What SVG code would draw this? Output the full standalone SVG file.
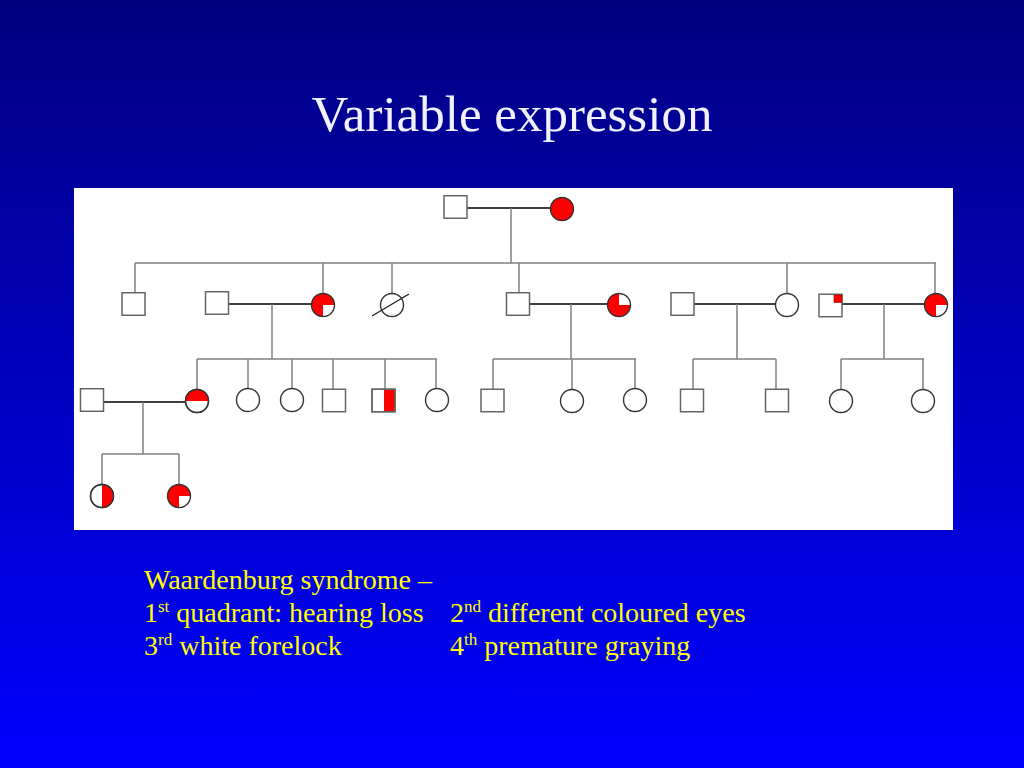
<svg xmlns="http://www.w3.org/2000/svg" width="1024" height="768" viewBox="0 0 1024 768">
<defs>
<linearGradient id="bg" x1="0" y1="0" x2="0" y2="1">
<stop offset="0" stop-color="#000080"/>
<stop offset="1" stop-color="#0000FF"/>
</linearGradient>
<rect id="sq" x="-11.5" y="-11.25" width="23" height="22.5"/>
<circle id="ci" cx="0" cy="0" r="11.5"/>
</defs>
<style>
.sq{fill:#fff;stroke:#666;stroke-width:1.5}
.ci{fill:#fff;stroke:#333;stroke-width:1.4}
.red{fill:#ff0000;stroke:none}
.wh{fill:#fff;stroke:none}
.out{fill:none;stroke:#333;stroke-width:1.4}
.outsq{fill:none;stroke:#666;stroke-width:1.5}
.rel{stroke:#7f7f7f;stroke-width:1.5;fill:none}
.mar{stroke:#000;stroke-width:1.4;fill:none}
.title{font-family:"Liberation Serif","Times New Roman",serif;font-size:51px;fill:#F2F2FF}
.note{font-family:"Liberation Serif","Times New Roman",serif;font-size:28px;fill:#FFFF00}
.sup{font-size:17px}
</style>
<rect x="0" y="0" width="1024" height="768" fill="url(#bg)"/>
<text class="title" x="512" y="131" text-anchor="middle">Variable expression</text>
<rect x="74" y="188" width="879" height="342" fill="#fff"/>

<g id="connectors">
<!-- generation I -->
<line class="mar" x1="467" y1="208" x2="551" y2="208"/>
<line class="rel" x1="511" y1="208" x2="511" y2="263"/>
<line class="rel" x1="135" y1="263" x2="936" y2="263"/>
<line class="rel" x1="135" y1="263" x2="135" y2="293"/>
<line class="rel" x1="323" y1="263" x2="323" y2="293.5"/>
<line class="rel" x1="392" y1="263" x2="392" y2="293.5"/>
<line class="rel" x1="519" y1="263" x2="519" y2="293"/>
<line class="rel" x1="787" y1="263" x2="787" y2="293.5"/>
<line class="rel" x1="935" y1="263" x2="935" y2="293.5"/>
<!-- generation II marriages -->
<line class="mar" x1="228" y1="304" x2="311.5" y2="304"/>
<line class="rel" x1="272" y1="304" x2="272" y2="359"/>
<line class="mar" x1="529" y1="304" x2="607.5" y2="304"/>
<line class="rel" x1="571" y1="304" x2="571" y2="359"/>
<line class="mar" x1="694" y1="304" x2="775.5" y2="304"/>
<line class="rel" x1="737" y1="304" x2="737" y2="359"/>
<line class="mar" x1="842" y1="304" x2="924.5" y2="304"/>
<line class="rel" x1="884" y1="304" x2="884" y2="359"/>
<!-- generation III sibships -->
<line class="rel" x1="197" y1="359" x2="437" y2="359"/>
<line class="rel" x1="197" y1="359" x2="197" y2="389.5"/>
<line class="rel" x1="248" y1="359" x2="248" y2="388.5"/>
<line class="rel" x1="292" y1="359" x2="292" y2="388.5"/>
<line class="rel" x1="333" y1="359" x2="333" y2="389"/>
<line class="rel" x1="385" y1="359" x2="385" y2="389"/>
<line class="rel" x1="436" y1="359" x2="436" y2="388.5"/>
<line class="rel" x1="493" y1="359" x2="636" y2="359"/>
<line class="rel" x1="493" y1="359" x2="493" y2="389"/>
<line class="rel" x1="572" y1="359" x2="572" y2="389.5"/>
<line class="rel" x1="635" y1="359" x2="635" y2="388.5"/>
<line class="rel" x1="693" y1="359" x2="776" y2="359"/>
<line class="rel" x1="693" y1="359" x2="693" y2="389"/>
<line class="rel" x1="776" y1="359" x2="776" y2="389"/>
<line class="rel" x1="841" y1="359" x2="924" y2="359"/>
<line class="rel" x1="841" y1="359" x2="841" y2="389.5"/>
<line class="rel" x1="923" y1="359" x2="923" y2="389.5"/>
<!-- generation III marriage -->
<line class="mar" x1="103" y1="402" x2="185.5" y2="402"/>
<line class="rel" x1="143" y1="402" x2="143" y2="454"/>
<line class="rel" x1="102" y1="454" x2="179" y2="454"/>
<line class="rel" x1="102" y1="454" x2="102" y2="484.5"/>
<line class="rel" x1="179" y1="454" x2="179" y2="484.5"/>
</g>

<!-- Generation I -->
<g id="I1" transform="translate(455.5,207)"><use href="#sq" class="sq"/></g>
<g id="I2" transform="translate(562,209)"><circle r="11.5" class="red"/><circle r="11.5" class="out"/></g>

<!-- Generation II -->
<g id="II1" transform="translate(133.5,304)"><use href="#sq" class="sq"/></g>
<g id="II2" transform="translate(217,303)"><use href="#sq" class="sq"/></g>
<g id="II3" transform="translate(323,305)"><circle r="11.5" class="red"/><path class="wh" d="M0 0 H11.5 A11.5 11.5 0 0 1 0 11.5 Z"/><circle r="11.5" class="out"/></g>
<g id="II4" transform="translate(392,305)"><use href="#ci" class="ci"/><line x1="-20" y1="11" x2="17" y2="-11" stroke="#222" stroke-width="1.3"/></g>
<g id="II5" transform="translate(518,304)"><use href="#sq" class="sq"/></g>
<g id="II6" transform="translate(619,305)"><circle r="11.5" class="red"/><path class="wh" d="M0 0 V-11.5 A11.5 11.5 0 0 1 11.5 0 Z"/><circle r="11.5" class="out"/></g>
<g id="II7" transform="translate(682.5,304)"><use href="#sq" class="sq"/></g>
<g id="II8" transform="translate(787,305)"><use href="#ci" class="ci"/></g>
<g id="II9" transform="translate(830.5,305.5)"><use href="#sq" class="sq"/><rect x="3.5" y="-10.5" width="8" height="7.5" class="red"/><rect x="3.5" y="-10.5" width="8" height="7.5" fill="none" stroke="#900" stroke-width="0.6"/></g>
<g id="II10" transform="translate(936,305)"><circle r="11.5" class="red"/><path class="wh" d="M0 0 H11.5 A11.5 11.5 0 0 1 0 11.5 Z"/><circle r="11.5" class="out"/></g>

<!-- Generation III -->
<g id="III1" transform="translate(92,400)"><use href="#sq" class="sq"/></g>
<g id="III2" transform="translate(197,401)"><use href="#ci" class="ci"/><path class="red" d="M-11.5 0 A11.5 11.5 0 0 1 11.5 0 Z"/><circle r="11.5" class="out"/></g>
<g id="III3" transform="translate(248,400)"><use href="#ci" class="ci"/></g>
<g id="III4" transform="translate(292,400)"><use href="#ci" class="ci"/></g>
<g id="III5" transform="translate(334,400.5)"><use href="#sq" class="sq"/></g>
<g id="III6" transform="translate(383.5,400.5)"><use href="#sq" class="sq"/><rect x="0.5" y="-11.25" width="11" height="22.5" class="red"/><use href="#sq" class="outsq"/></g>
<g id="III7" transform="translate(437,400)"><use href="#ci" class="ci"/></g>
<g id="III8" transform="translate(492.5,400.5)"><use href="#sq" class="sq"/></g>
<g id="III9" transform="translate(572,401)"><use href="#ci" class="ci"/></g>
<g id="III10" transform="translate(635,400)"><use href="#ci" class="ci"/></g>
<g id="III11" transform="translate(692,400.5)"><use href="#sq" class="sq"/></g>
<g id="III12" transform="translate(777,400.5)"><use href="#sq" class="sq"/></g>
<g id="III13" transform="translate(841,401)"><use href="#ci" class="ci"/></g>
<g id="III14" transform="translate(923,401)"><use href="#ci" class="ci"/></g>

<!-- Generation IV -->
<g id="IV1" transform="translate(102,496)"><use href="#ci" class="ci"/><path class="red" d="M0 -11.5 A11.5 11.5 0 0 1 0 11.5 Z"/><circle r="11.5" class="out"/></g>
<g id="IV2" transform="translate(179,496)"><circle r="11.5" class="red"/><path class="wh" d="M0 0 H11.5 A11.5 11.5 0 0 1 0 11.5 Z"/><circle r="11.5" class="out"/></g>

<g id="legend">
<text class="note" x="144" y="589">Waardenburg syndrome –</text>
<text class="note" x="144" y="622">1<tspan class="sup" dy="-10">st</tspan><tspan dy="10"> quadrant: hearing loss</tspan></text>
<text class="note" x="450" y="622">2<tspan class="sup" dy="-10">nd</tspan><tspan dy="10"> different coloured eyes</tspan></text>
<text class="note" x="144" y="655">3<tspan class="sup" dy="-10">rd</tspan><tspan dy="10"> white forelock</tspan></text>
<text class="note" x="450" y="655">4<tspan class="sup" dy="-10">th</tspan><tspan dy="10"> premature graying</tspan></text>
</g>
</svg>
